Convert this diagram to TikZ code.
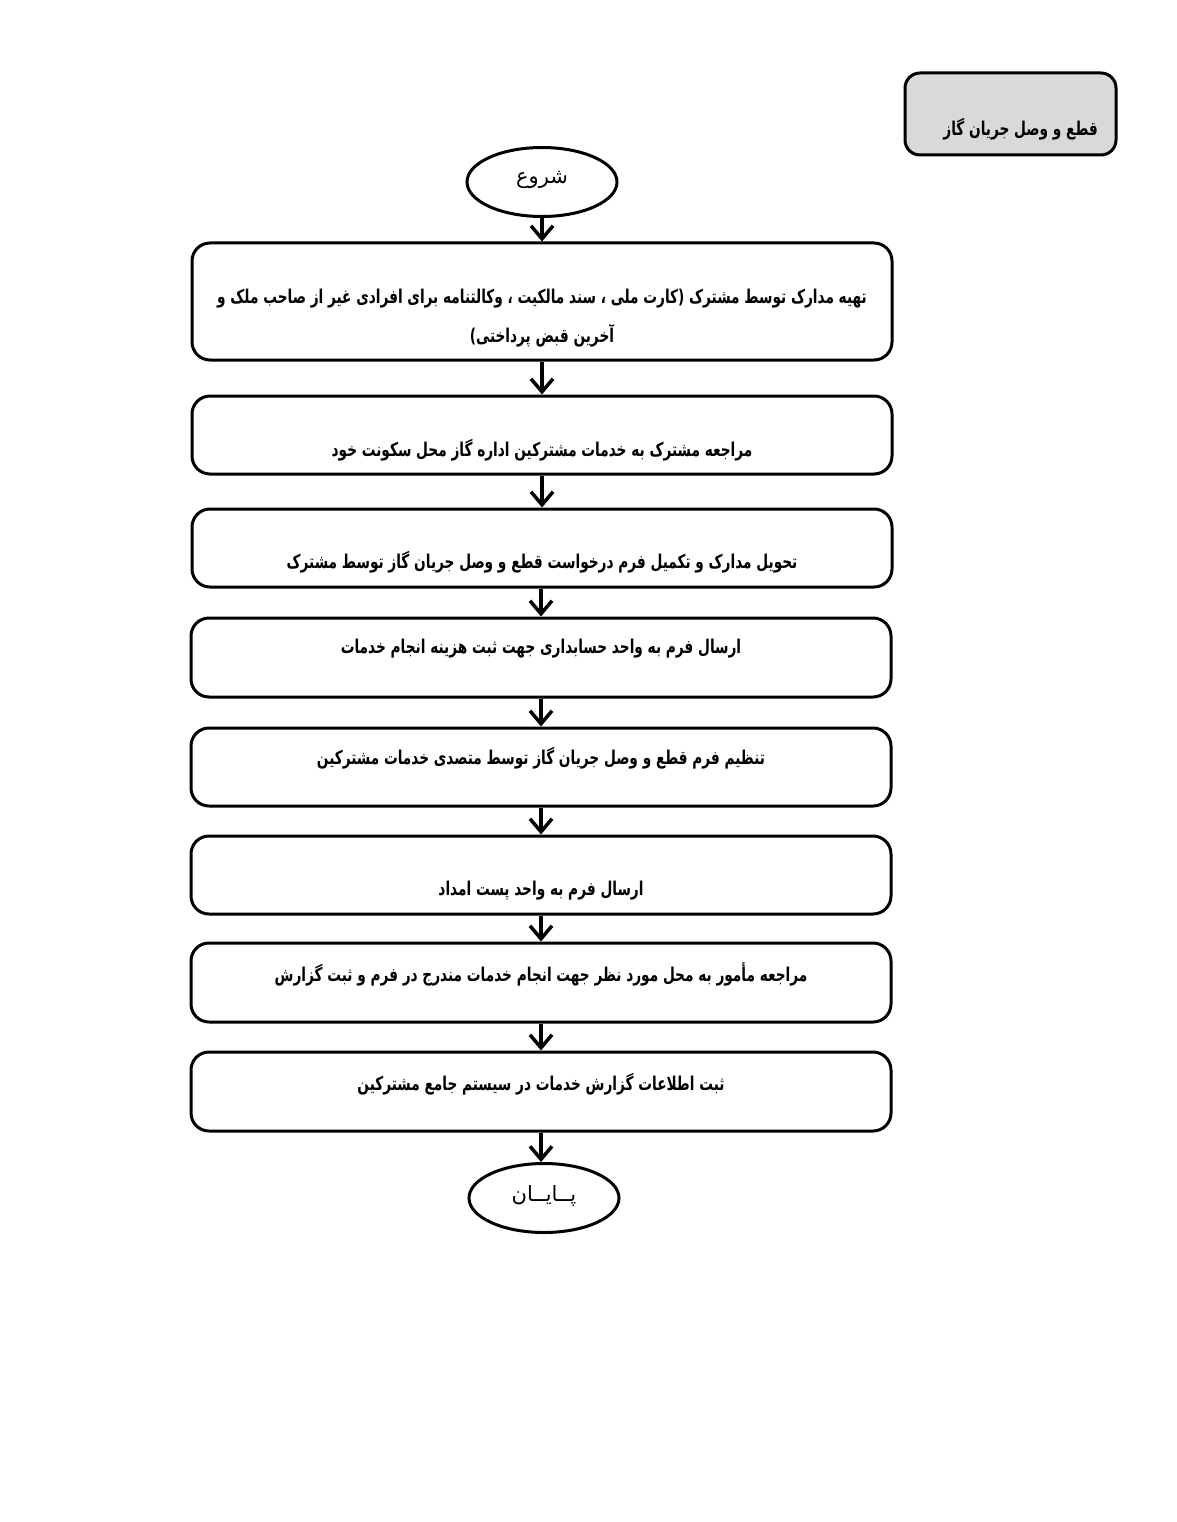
\documentclass[tikz,border=0pt]{standalone}
\usepackage{fontspec}
\usetikzlibrary{arrows.meta,shapes.geometric}
\TeXXeTstate=1
\newfontfamily\arabicfont[Script=Arabic]{DejaVu Sans}
\newfontfamily\arabiccond[Script=Arabic, FakeStretch=0.72]{DejaVu Sans}
\definecolor{titlegray}{HTML}{D9D9D9}
\tikzset{
  stepbox/.style={draw, line width=3pt, rounded corners=18pt, minimum width=700pt, inner sep=0pt},
  termnode/.style={draw, line width=3pt, ellipse, minimum width=150pt, minimum height=69pt, inner sep=0pt},
  steptext/.style={font=\arabiccond\bfseries\fontsize{19}{39}\selectfont, align=center, inner sep=0pt},
  termtext/.style={font=\arabicfont\fontsize{21}{24}\selectfont, inner sep=0pt},
  flow/.style={line width=3.5pt, -{Straight Barb[length=13pt, width=22pt, line width=3.5pt]}}
}
\begin{document}
\begin{tikzpicture}[x=1pt, y=-1pt]
\useasboundingbox (0,0) rectangle (1176,1522);
% title
\node[draw, line width=3pt, rounded corners=15pt, fill=titlegray, minimum width=211pt, minimum height=82pt] (title) at (1010.5,114) {};
\node[steptext, anchor=east] (titletext) at (1098,129) {\beginR قطع و وصل جریان گاز\endR};
% start
\node[termnode] (start) at (542,182) {};
\node[termtext] (starttext) at (542,180) {\beginR شروع\endR};
% steps
\node[stepbox, minimum height=117pt] (b1) at (542,301.5) {};
\node[steptext] (t1) at (542,318) {\beginR تهیه مدارک توسط مشترک (کارت ملی ، سند مالکیت ، وکالتنامه برای  افرادی غیر از صاحب ملک  و\endR\\\beginR آخرین قبض پرداختی)\endR};
\node[stepbox, minimum height=78pt] (b2) at (542,435) {};
\node[steptext] (t2) at (542,450) {\beginR مراجعه مشترک به خدمات مشترکین اداره گاز محل سکونت خود\endR};
\node[stepbox, minimum height=78pt] (b3) at (542,548) {};
\node[steptext] (t3) at (542,562) {\beginR تحویل مدارک و تکمیل فرم درخواست قطع و وصل جریان گاز توسط مشترک\endR};
\node[stepbox, minimum height=79pt] (b4) at (541,657.5) {};
\node[steptext] (t4) at (541,649) {\beginR ارسال فرم به واحد حسابداری جهت ثبت هزینه انجام خدمات\endR};
\node[stepbox, minimum height=78pt] (b5) at (541,767) {};
\node[steptext] (t5) at (541,758) {\beginR تنظیم فرم قطع و وصل جریان گاز توسط متصدی خدمات مشترکین\endR};
\node[stepbox, minimum height=78pt] (b6) at (541,875) {};
\node[steptext] (t6) at (541,891) {\beginR ارسال فرم به واحد پست امداد\endR};
\node[stepbox, minimum height=79pt] (b7) at (541,982.5) {};
\node[steptext] (t7) at (541,974) {\beginR مراجعه مأمور به محل مورد نظر جهت انجام خدمات مندرج در فرم و ثبت گزارش\endR};
\node[stepbox, minimum height=79pt] (b8) at (541,1091.5) {};
\node[steptext] (t8) at (541,1084) {\beginR ثبت اطلاعات گزارش خدمات در سیستم جامع مشترکین\endR};
% end
\node[termnode] (stop) at (544,1198) {};
\node[termtext] (stoptext) at (544,1196) {\beginR پــایــان\endR};
% connectors
\draw[flow] (start) -- (b1);
\draw[flow] (b1) -- (b2);
\draw[flow] (b2) -- (b3);
\draw[flow] (b3.south -| b4.north) -- (b4);
\draw[flow] (b4) -- (b5);
\draw[flow] (b5) -- (b6);
\draw[flow] (b6) -- (b7);
\draw[flow] (b7) -- (b8);
\draw[flow] (b8.south) -- (b8.south |- stop.north);
\end{tikzpicture}
\end{document}
